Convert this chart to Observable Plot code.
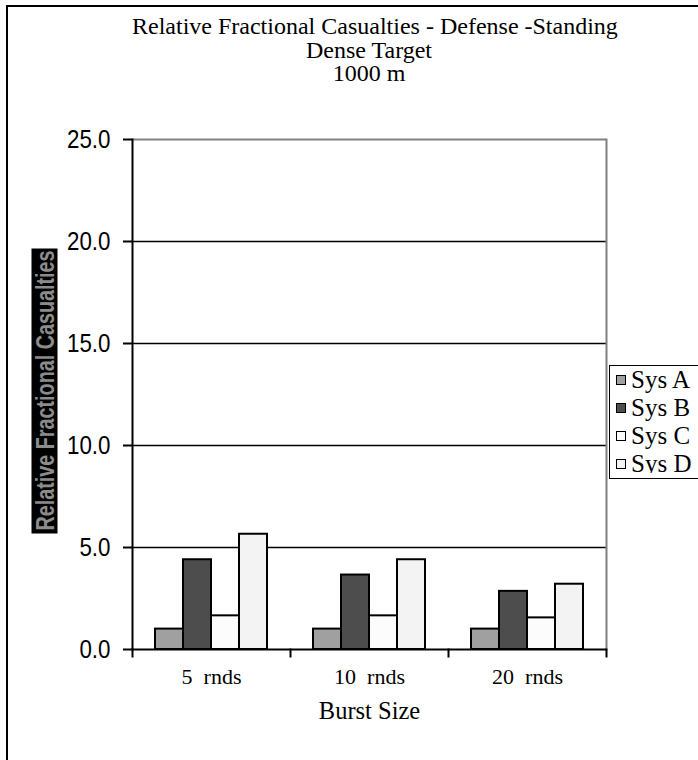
<!DOCTYPE html>
<html>
<head>
<meta charset="utf-8">
<script src="https://cdn.jsdelivr.net/npm/d3@7"></script>
<script src="https://cdn.jsdelivr.net/npm/@observablehq/plot@0.6"></script>
<style>
  html, body { margin: 0; padding: 0; background: #fff; }
  #wrap { position: relative; width: 698px; height: 760px; overflow: hidden; background: #fff; }
  #wrap svg text { white-space: pre; }
  #title { position: absolute; left: 132px; width: 474px; top: 15px; text-align: center;
    font-family: "Liberation Serif", "Times New Roman", serif; font-size: 24px; line-height: 23.5px; color: #000; white-space: nowrap; }
  #border { position: absolute; left: 6px; top: 5px; right: -10px; bottom: -10px;
    border-top: 2px solid #000; border-left: 2px solid #000; pointer-events: none; }
  #ylab { position: absolute; width: 285px; height: 26px; left: -98.5px; top: 377.5px;
    transform: rotate(-90deg); background: #000; }
  #ylab span { position: absolute; left: 50%; top: 0; color: #8c8c8c;
    transform: translateX(-50%) scaleX(0.79);
    font-family: "Liberation Sans", Arial, sans-serif;
    font-size: 25px; line-height: 26px; font-weight: bold; white-space: nowrap; }
  #legend { position: absolute; left: 609px; top: 365px; width: 110px; height: 114px;
    box-sizing: border-box; border: 1.5px solid #000; background: #fff; overflow: hidden; }
  .item { display: flex; align-items: center; height: 28px; white-space: nowrap;
    font-family: "Liberation Serif", "Times New Roman", serif; font-size: 25px; }
  .item.last .lbl { display: inline-block; clip-path: inset(-10px -10px 5px -10px); }
  .sw { width: 8px; height: 8px; border: 1px solid #000; margin-left: 6px; margin-right: 5px; flex: none; }
</style>
</head>
<body>
<div id="wrap">
  <div id="chart"></div>
  <div id="border"></div>
  <div id="title"></div>
  <div id="ylab"><span></span></div>
  <div id="legend"></div>
</div>
<script>
const titleLines = ["Relative Fractional Casualties - Defense -Standing", "Dense Target", "1000 m"];
const yTitle = "Relative Fractional Casualties";
const xTitle = "Burst Size";
const bursts = ["5  rnds", "10  rnds", "20  rnds"];
const systems = ["Sys A", "Sys B", "Sys C", "Sys D"];
const sysA = [1.0, 1.0, 1.0];
const sysB = [4.4, 3.65, 2.85];
const sysC = [1.65, 1.65, 1.55];
const sysD = [5.65, 4.4, 3.2];
const sysColors = ["#a0a0a0", "#4d4d4d", "#fcfcfc", "#f3f3f3"];
const yTicks = [0, 5, 10, 15, 20, 25];
const gridValues = [5, 10, 15, 20];

const series = [sysA, sysB, sysC, sysD];
const data = [];
bursts.forEach((b, i) => systems.forEach((s, j) => data.push({burst: b, sys: s, value: series[j][i]})));

const W = 698, H = 760, mL = 132, mR = 92, mT = 139, mB = 111;
const innerH = H - mT - mB;
const serif = "Liberation Serif, Times New Roman, serif";
const sans = "Liberation Sans, Arial, sans-serif";

const chart = Plot.plot({
  width: W, height: H,
  marginLeft: mL, marginRight: mR, marginTop: mT, marginBottom: mB,
  style: {background: "white", color: "black"},
  fx: {domain: bursts, padding: 0, label: null, axis: null},
  x: {domain: systems, paddingInner: 0, paddingOuter: 0.777, axis: null},
  y: {domain: [0, 25], label: null, axis: null},
  color: {domain: systems, range: sysColors},
  marks: [
    Plot.ruleY(gridValues, {stroke: "black", strokeWidth: 1.5}),
    Plot.ruleY([25], {stroke: "#808080", strokeWidth: 2}),
    Plot.frame({anchor: "right", facetAnchor: "right", stroke: "#808080", strokeWidth: 2}),
    Plot.barY(data, {fx: "burst", x: "sys", y: "value", fill: "sys", stroke: "black", strokeWidth: 2}),
    Plot.frame({anchor: "left", facetAnchor: "left", stroke: "black", strokeWidth: 2}),
    Plot.ruleY([0], {stroke: "black", strokeWidth: 2}),
    Plot.frame({anchor: "left", insetTop: innerH, insetBottom: -7, stroke: "black", strokeWidth: 2}),
    Plot.frame({anchor: "right", facetAnchor: "right", insetTop: innerH, insetBottom: -7, stroke: "black", strokeWidth: 2}),
    Plot.axisY({ticks: yTicks, tickFormat: ".1f", tickSize: 9, tickPadding: 13, fontSize: 26,
      fontFamily: sans, stroke: "black", strokeWidth: 2, label: null}),
    Plot.axisFx({anchor: "bottom", tickSize: 0, tickPadding: 19, fontSize: 22, fontFamily: serif, label: null}),
    Plot.axisFx({anchor: "bottom", ticks: [], fontSize: 24.5, fontFamily: serif,
      label: xTitle, labelAnchor: "center", labelOffset: 69})
  ]
});
document.getElementById("chart").appendChild(chart);

// condense the y tick labels (Arial Narrow look)
d3.select(chart).selectAll('g[aria-label="y-axis tick label"] text').each(function() {
  const t = this.getAttribute("transform") || "";
  this.setAttribute("transform", t + " scale(0.86,1)");
});

document.getElementById("title").innerHTML = titleLines.map(t => `<div>${t}</div>`).join("");
document.querySelector("#ylab span").textContent = yTitle;
document.getElementById("legend").innerHTML = systems.map((s, i) =>
  `<div class="item${i === systems.length - 1 ? " last" : ""}"><span class="sw" style="background:${sysColors[i]}"></span><span class="lbl">${s}</span></div>`).join("");
</script>
</body>
</html>
